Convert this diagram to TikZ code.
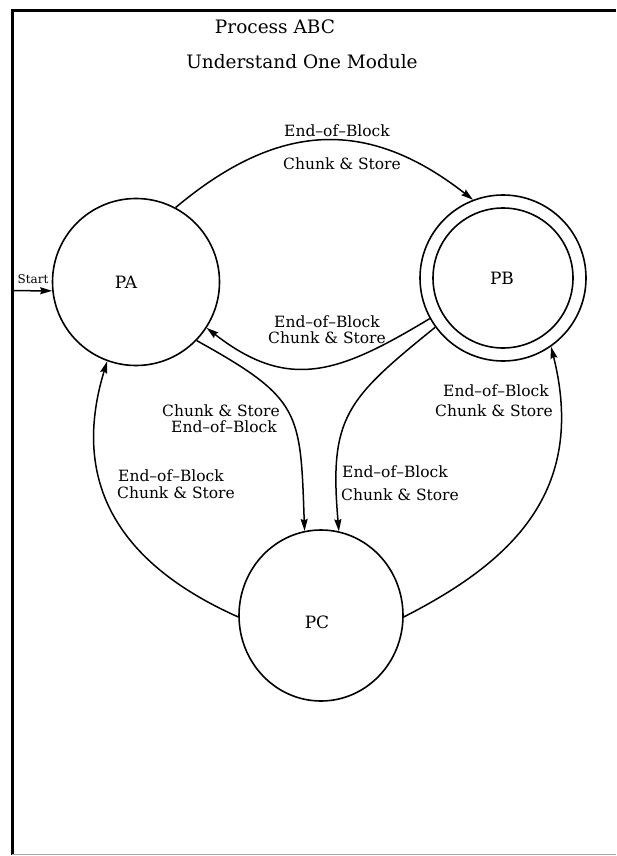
\documentclass[tikz,border=0pt]{standalone}
\usepackage{fontspec}
\setmainfont{DejaVu Serif}
\usetikzlibrary{arrows.meta,shapes.geometric}
\begin{document}
\begin{tikzpicture}[x=1pt,y=1pt,
  stateline/.style={draw,line width=1.6pt,inner sep=0pt},
  arr/.style={line width=1.5pt,-{Stealth[length=12pt,width=7pt,inset=1.5pt]}},
  lbl/.style={inner sep=0pt,font=\fontsize{15.5}{18}\selectfont},
  statename/.style={inner sep=0pt,font=\fontsize{17}{20}\selectfont},
  titletext/.style={inner sep=0pt,font=\fontsize{18.5}{22}\selectfont}]
\useasboundingbox (0,0) rectangle (616,-856);

% page frame
\draw[line width=3pt] (616,-11) -- (12,-11) -- (12,-855);
\draw[line width=0.8pt,black!35] (12,-854) -- (616,-854);

% title
\node[titletext] (title1) at (275,-27) {Process ABC};
\node[titletext] (title2) at (302,-62) {Understand One Module};

% states
\node[stateline,circle,minimum size=167pt] (PA) at (136,-282) {};
\node[stateline,circle,minimum size=166pt] (PB) at (503,-278) {};
\draw[line width=1.6pt] (PB.center) circle[radius=70pt];
\node[stateline,ellipse,minimum width=164pt,minimum height=171pt] (PC) at (321,-615.5) {};

\node[statename] (nPA) at (126,-282) {PA};
\node[statename] (nPB) at (502,-278) {PB};
\node[statename] (nPC) at (317,-622) {PC};

% start transition
\coordinate (start) at (13.5,-290.7);
\draw[arr] (start) -- (PA.186);
\node[inner sep=0pt,font=\fontsize{12}{14}\selectfont] (startlbl) at (33,-279) {Start};

% transitions
\draw[arr] (PA.62) to[out=40,in=142,looseness=1.15] (PB.111);
\draw[arr] (PB.209) to[out=211,in=-38,looseness=1.2] (PA.327);
\draw[arr] (PA.316) to[out=-29,in=92,looseness=1.4] (PC.101);
\draw[arr] (PB.216) to[out=219,in=95,looseness=1.3] (PC.78);
\draw[arr] (PC.181) to[out=156,in=253,out distance=100pt,in distance=150pt] (PA.250);
\draw[arr] (PC.-1) to[out=27,in=-76,out distance=120pt,in distance=150pt] (PB.-55);

% transition labels
\node[lbl] (l1a) at (337,-131) {End–of–Block};
\node[lbl] (l1b) at (342,-164) {Chunk \& Store};
\node[lbl] (l2a) at (327,-322) {End–of–Block};
\node[lbl] (l2b) at (327,-338) {Chunk \& Store};
\node[lbl] (l3a) at (221,-411) {Chunk \& Store};
\node[lbl] (l3b) at (224,-427) {End–of–Block};
\node[lbl] (l4a) at (395,-472) {End–of–Block};
\node[lbl] (l4b) at (400,-495) {Chunk \& Store};
\node[lbl] (l5a) at (171,-476) {End–of–Block};
\node[lbl] (l5b) at (176,-493) {Chunk \& Store};
\node[lbl] (l6a) at (496,-391) {End–of–Block};
\node[lbl] (l6b) at (494,-411) {Chunk \& Store};
\end{tikzpicture}
\end{document}
